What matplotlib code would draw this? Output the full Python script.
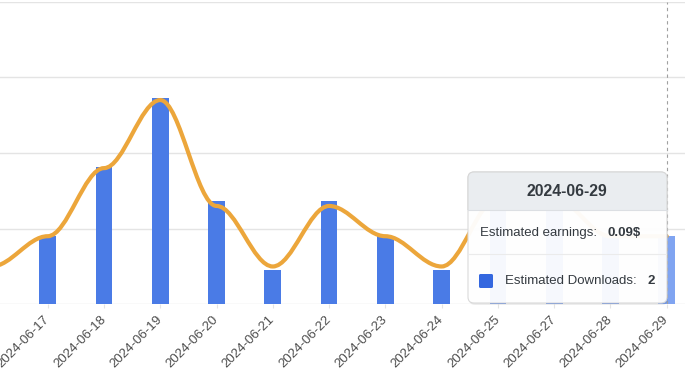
import numpy as np
import matplotlib
matplotlib.use("Agg")
import matplotlib.pyplot as plt
from matplotlib.path import Path
from matplotlib.patches import PathPatch, FancyBboxPatch, Rectangle
from matplotlib.lines import Line2D

plt.rcParams['font.family'] = ['Liberation Sans', 'DejaVu Sans']

# ---- data ----
categories = ['2024-06-16', '2024-06-17', '2024-06-18', '2024-06-19', '2024-06-20',
              '2024-06-21', '2024-06-22', '2024-06-23', '2024-06-24', '2024-06-25',
              '2024-06-27', '2024-06-28', '2024-06-29']
downloads = [1, 2, 4, 6, 3, 1, 3, 2, 1, 3, 3, 2, 2]
earnings = [0.05, 0.09, 0.18, 0.27, 0.13, 0.05, 0.13, 0.09, 0.05, 0.14, 0.14, 0.09, 0.09]
earn_ticks = [0.0, 0.1, 0.2, 0.3, 0.4]
hover_index = len(categories) - 1

W, H = 690, 388
fig = plt.figure(figsize=(W / 100, H / 100), dpi=100)
fig.patch.set_facecolor('white')

left_px, right_px, top_px, bot_px = 0, 685, 1.7, 304.3
rect = [left_px / W, (H - bot_px) / H, (right_px - left_px) / W, (bot_px - top_px) / H]
ax = fig.add_axes(rect)
ax2 = ax.twinx()
ax3 = ax.twinx()

x = np.arange(len(categories))
xlim = (0.152, 12.325)

# grid (earnings scale)
ax.set_yticks(earn_ticks)
ax.set_ylim(0, 0.4)
ax.yaxis.grid(True, color='#e4e4e4', lw=1.0)
ax.tick_params(axis='y', left=False, labelleft=False)
ax.set_axisbelow(True)
ax.set_xticks(x)
ax.set_xticklabels(categories, rotation=45, ha='right', va='center',
                   rotation_mode='anchor', fontsize=9.5, color='#4d4d4d')
ax.tick_params(axis='x', length=3, color='#e4e4e4', pad=6.5)

for a in (ax, ax2, ax3):
    for s in a.spines.values():
        s.set_visible(False)
    a.patch.set_visible(False)

# bars (downloads scale)
bar_colors = ['#4a7be6'] * len(categories)
bar_colors[hover_index] = '#80a4f1'
ax2.bar(x, downloads, width=0.297, color=bar_colors, linewidth=0)
ax2.set_yticks([])
ax2.set_ylim(0, 8.82)
ax2.tick_params(axis='y', right=False, labelright=False)

# smooth line (earnings scale): cubic segments with horizontal tangents
ax3.set_yticks([])
ax3.set_ylim(0, 0.4)
ax3.tick_params(axis='y', right=False, labelright=False)
k = 0.35
verts = [(x[0], earnings[0])]
codes = [Path.MOVETO]
for i in range(len(x) - 1):
    dx = x[i + 1] - x[i]
    verts += [(x[i] + k * dx, earnings[i]), (x[i + 1] - k * dx, earnings[i + 1]),
              (x[i + 1], earnings[i + 1])]
    codes += [Path.CURVE4] * 3
ax3.add_patch(PathPatch(Path(verts, codes), facecolor='none', edgecolor='#eca63b',
                        lw=3.0, capstyle='round', joinstyle='round'))
ax3.axvline(x[hover_index], color='#a0a0a0', lw=0.8, ls=(0, (3, 3)))

for a in (ax, ax2, ax3):
    a.set_xlim(*xlim)

# ---- tooltip ----
tr = fig.dpi_scale_trans
def inch(xp, yp):
    return xp / 100, (H - yp) / 100

bx0, bx1, by0, by1 = 468, 667, 172, 303
bw, bh = (bx1 - bx0) / 100, (by1 - by0) / 100
shadow = FancyBboxPatch(inch(bx0 + 1, by1 + 2), bw, bh,
                        boxstyle='round,pad=0,rounding_size=0.06', transform=tr,
                        fc='black', alpha=0.07, ec='none', zorder=5)
fig.add_artist(shadow)
body = FancyBboxPatch(inch(bx0, by1), bw, bh, boxstyle='round,pad=0,rounding_size=0.06',
                      transform=tr, fc='white', alpha=0.96, ec='#d8d8d8', lw=0.8, zorder=6)
fig.add_artist(body)
header = FancyBboxPatch(inch(bx0, by1), bw, bh, boxstyle='round,pad=0,rounding_size=0.06',
                        transform=tr, fc='#eaedf0', ec='#d8d8d8', lw=0.8, zorder=7)
clip = Rectangle(inch(bx0 - 2, 210), (bx1 - bx0 + 4) / 100, (210 - by0 + 2) / 100, transform=tr)
fig.add_artist(header)
header.set_clip_path(clip)
fig.add_artist(Line2D([bx0 / 100, bx1 / 100], [(H - 210) / 100] * 2, transform=tr,
                      color='#dcdfe3', lw=0.8, zorder=8))
fig.add_artist(Line2D([(bx0 + 1) / 100, (bx1 - 1) / 100], [(H - 254) / 100] * 2, transform=tr,
                      color='#ebebeb', lw=0.8, zorder=8))
sq = FancyBboxPatch(inch(479, 288), 0.14, 0.14, boxstyle='round,pad=0,rounding_size=0.015',
                    transform=tr, fc='#3467df', ec='none', zorder=8)
fig.add_artist(sq)

txt_color = '#343a40'
fig.text(*inch(567, 191), categories[hover_index], transform=tr, ha='center', va='center',
         fontsize=11.3, fontweight='bold', color=txt_color, zorder=9)
fig.text(*inch(480, 233), 'Estimated earnings:', transform=tr, ha='left', va='center',
         fontsize=9.5, color=txt_color, zorder=9)
fig.text(*inch(608, 233), f'{earnings[hover_index]:.2f}$', transform=tr, ha='left', va='center',
         fontsize=9.5, fontweight='bold', color=txt_color, zorder=9)
fig.text(*inch(505, 281), 'Estimated Downloads:', transform=tr, ha='left', va='center',
         fontsize=9.5, color=txt_color, zorder=9)
fig.text(*inch(648, 281), f'{downloads[hover_index]}', transform=tr, ha='left', va='center',
         fontsize=9.5, fontweight='bold', color=txt_color, zorder=9)

fig.savefig('out.png', dpi=100, facecolor='white')
